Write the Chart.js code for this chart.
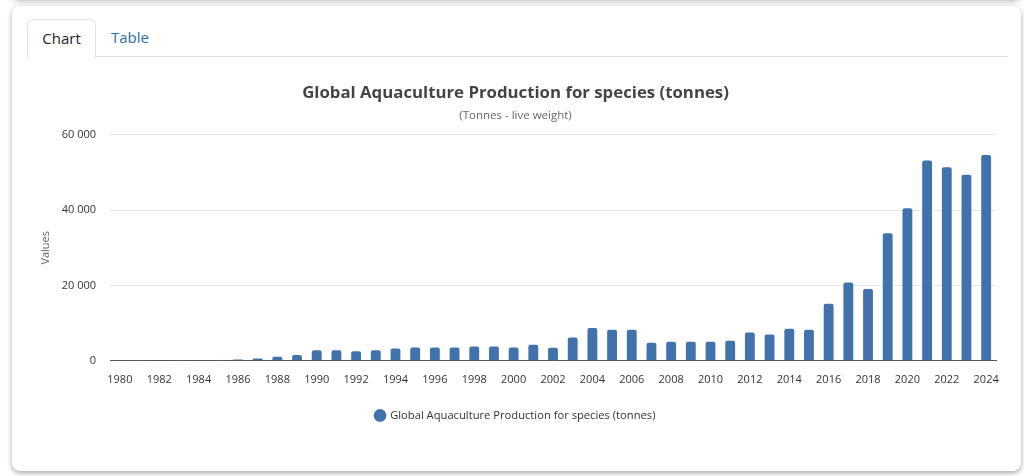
<!DOCTYPE html>
<html>
<head>
<meta charset="utf-8">
<script src="https://cdn.jsdelivr.net/npm/chart.js@4/dist/chart.umd.min.js"></script>
<style>
  html, body { margin: 0; padding: 0; background: #fff; width: 1024px; height: 476px; overflow: hidden; font-family: "Open Sans", sans-serif; }
  .prev { position: absolute; left: 12px; top: -40px; width: 1009px; height: 40px; background: #fff; box-shadow: 0 1px 6px rgba(0,0,0,0.3); border-radius: 8px; }
  .card { position: absolute; left: 12px; top: 6px; width: 1009px; height: 465px; background: #fff; border-radius: 8px; box-shadow: 0 2px 5px rgba(0,0,0,0.35); }
  .tabline { position: absolute; left: 27px; top: 56px; width: 981px; height: 1px; background: #dee2e6; }
  .tab { position: absolute; top: 19px; height: 37px; font-size: 15px; line-height: 37px; }
  .tab.active { left: 27px; width: 67px; border: 1px solid #dee2e6; border-bottom: none; border-radius: 6px 6px 0 0; background: #fff; color: #212529; text-align: center; z-index: 2; height: 38px; }
  .tab.link { left: 111px; color: #2a6fae; }
  #wrap { position: absolute; left: 0; top: 60px; width: 1024px; height: 371px; }
</style>
</head>
<body>
<div class="prev"></div>
<div class="card"></div>
<div class="tabline"></div>
<div class="tab active">Chart</div>
<div class="tab link">Table</div>
<div id="wrap"><canvas id="c"></canvas></div>
<script>
const years = ["1980","1981","1982","1983","1984","1985","1986","1987","1988","1989","1990","1991","1992","1993","1994","1995","1996","1997","1998","1999","2000","2001","2002","2003","2004","2005","2006","2007","2008","2009","2010","2011","2012","2013","2014","2015","2016","2017","2018","2019","2020","2021","2022","2023","2024"];
const production = [40,40,40,40,40,40,270,540,1000,1500,2770,2770,2500,2770,3200,3480,3480,3480,3750,3750,3480,4200,3420,6150,8640,8200,8200,4720,4990,5000,5000,5260,7480,6950,8460,8200,15100,20760,19060,33850,40500,53200,51400,49400,54700];
const seriesName = "Global Aquaculture Production for species (tonnes)";
const chartTitle = "Global Aquaculture Production for species (tonnes)";
const chartSubtitle = "(Tonnes - live weight)";
const yAxisTitle = "Values";
const yTicks = [0, 20000, 40000, 60000];

const FONT = "'Open Sans', sans-serif";
const fmt = v => String(v).replace(/\B(?=(\d{3})+(?!\d))/g, " ");

new Chart(document.getElementById('c'), {
  type: 'bar',
  data: {
    labels: years,
    datasets: [{
      label: seriesName,
      data: production,
      backgroundColor: '#4272ab',
      borderRadius: { topLeft: 2, topRight: 2 },
      borderSkipped: 'bottom',
      barPercentage: 0.5,
      categoryPercentage: 1.0
    }]
  },
  options: {
    responsive: true,
    maintainAspectRatio: false,
    animation: false,
    layout: { padding: { left: 35, right: 28, top: 0, bottom: 0 } },
    plugins: {
      title: { display: true, text: chartTitle, color: '#444', font: { family: FONT, size: 16.8, weight: 'bold' }, padding: { top: 23, bottom: 4 } },
      subtitle: { display: true, text: chartSubtitle, color: '#666', font: { family: FONT, size: 11.5 }, padding: { top: 2, bottom: 12 } },
      legend: { position: 'bottom', labels: { usePointStyle: true, pointStyle: 'circle', boxWidth: 9, boxHeight: 9, padding: 10, color: '#333', font: { family: FONT, size: 11.2 } } },
      tooltip: { enabled: false }
    },
    scales: {
      x: {
        grid: { display: false, drawTicks: false },
        border: { display: true, color: '#555', width: 1 },
        ticks: { autoSkip: false, maxRotation: 0, minRotation: 0, padding: 13, color: '#333', font: { family: FONT, size: 11 },
          callback: function(v, i) { return i % 2 === 0 ? years[i] : ''; } }
      },
      y: {
        min: 0, max: 60000,
        afterFit: s => { s.width = 75; },
        afterBuildTicks: s => { s.ticks = yTicks.map(v => ({ value: v })); },
        grid: { color: '#e6e6e6', drawTicks: false },
        border: { display: false },
        ticks: { padding: 14, color: '#333', font: { family: FONT, size: 11 }, callback: v => fmt(v) },
        title: { display: true, text: yAxisTitle, color: '#666', font: { family: FONT, size: 11 }, padding: 4 }
      }
    }
  }
});
</script>
</body>
</html>
